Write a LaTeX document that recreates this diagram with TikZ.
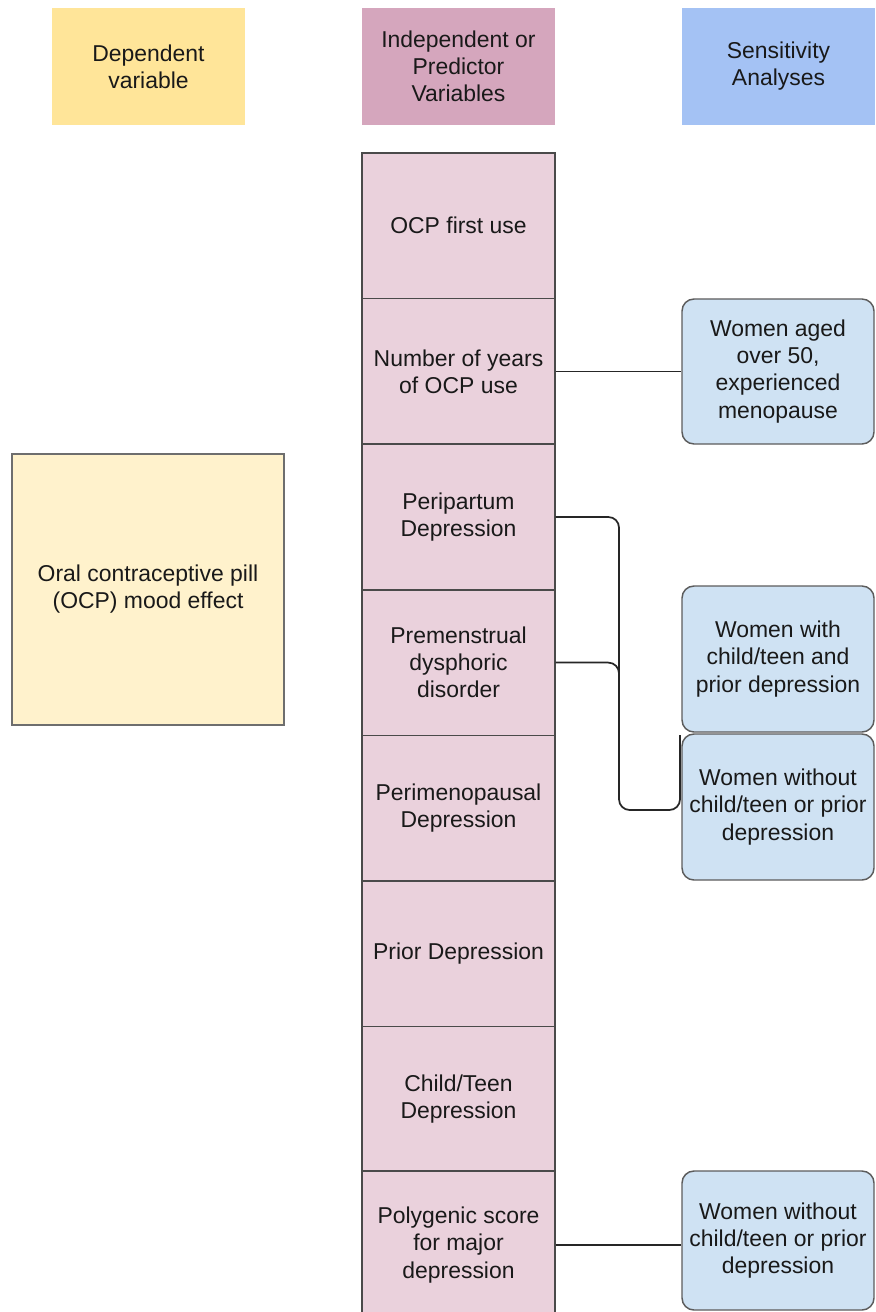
\documentclass[tikz,border=0pt]{standalone}
\usepackage{fontspec}
\setmainfont{Liberation Sans}
\definecolor{hyel}{HTML}{FFE599}
\definecolor{hpink}{HTML}{D5A6BD}
\definecolor{hblue}{HTML}{A4C2F4}
\definecolor{cpink}{HTML}{EAD1DC}
\definecolor{cyel}{HTML}{FFF2CC}
\definecolor{cblue}{HTML}{CFE2F3}
\definecolor{bord}{HTML}{4A4A4A}
\begin{document}
\begin{tikzpicture}[x=0.75pt,y=-0.75pt,
  every node/.style={font=\fontsize{17.2}{20.3}\selectfont, align=center, inner sep=0pt, text=black!90},
  hdr/.style={rectangle, minimum width=144.75pt, minimum height=87.75pt},
  cell/.style={rectangle, draw=bord, line width=1.1pt, fill=cpink, minimum width=144.75pt, minimum height=109.2pt},
  sens/.style={rectangle, rounded corners=9pt, draw=bord!90, line width=1.1pt, fill=cblue, minimum width=144pt},
  conn/.style={draw=black!85, line width=1.3pt, rounded corners=8pt}]
\clip (0,0) rectangle (875,1312);
\useasboundingbox (0,0) rectangle (875,1312);
% headers
\node[hdr, fill=hyel] (h1) at (148.5,66.5) {Dependent\\variable};
\node[hdr, fill=hpink] (h2) at (458.5,66.5) {Independent or\\Predictor\\Variables};
\node[hdr, fill=hblue] (h3) at (778.5,66.5) {Sensitivity\\Analyses};
% column cells
\node[cell] (c1) at (458.5,225.8) {OCP first use};
\node[cell] (c2) at (458.5,371.4) {Number of years\\of OCP use};
\node[cell] (c3) at (458.5,517.0) {Peripartum\\Depression};
\node[cell] (c4) at (458.5,662.6) {Premenstrual\\dysphoric\\disorder};
\node[cell] (c5) at (458.5,808.2) {Perimenopausal\\Depression};
\node[cell] (c6) at (458.5,953.8) {Prior Depression};
\node[cell] (c7) at (458.5,1099.4) {Child/Teen\\Depression};
\node[cell, minimum height=111pt] (c8) at (458.5,1245.0) {Polygenic score\\for major\\depression};
% dependent variable box
\node[rectangle, draw=bord!80, line width=1.1pt, fill=cyel, minimum width=204pt, minimum height=203.25pt] (dv) at (148,589.5) {Oral contraceptive pill\\(OCP) mood effect};
% sensitivity boxes
\node[sens, minimum height=108.75pt] (s1) at (778,371.5) {Women aged\\over 50,\\experienced\\menopause};
\node[sens, minimum height=109.5pt] (s2) at (778,659) {Women with\\child/teen and\\prior depression};
\node[sens, minimum height=109.5pt] (s3) at (778,807) {Women without\\child/teen or prior\\depression};
\node[sens, minimum height=104.25pt] (s4) at (778,1240.5) {Women without\\child/teen or prior\\depression};
% connectors
\coordinate (hook) at (680,735);
\coordinate (merge) at (619,700);
\draw[conn] (c2.east) -- (c2.east -| s1.west);
\draw[conn] (c3.east) -- (619,517) -- (619,810) -- (680,810) -- (hook);
\draw[conn] (c4.east) -- (619,662.6) -- (merge);
\draw[conn] (c8.east) -- (c8.east -| s4.west);
\end{tikzpicture}
\end{document}
